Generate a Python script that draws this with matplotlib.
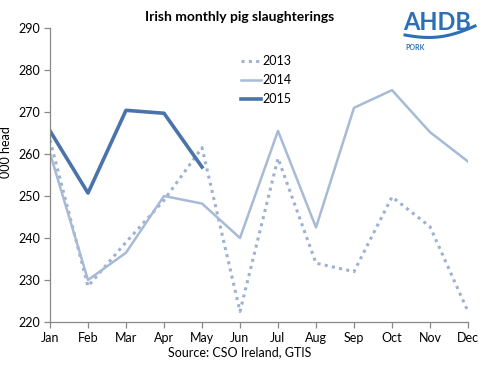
import matplotlib
matplotlib.use("Agg")
import matplotlib.pyplot as plt
from matplotlib.lines import Line2D
import numpy as np

months = ["Jan", "Feb", "Mar", "Apr", "May", "Jun", "Jul", "Aug", "Sep", "Oct", "Nov", "Dec"]
y2013 = [263.3, 228.5, 239.0, 249.0, 261.5, 222.5, 259.0, 234.0, 232.0, 249.8, 242.7, 222.5]
y2014 = [260.2, 230.0, 236.5, 250.0, 248.2, 240.0, 265.5, 242.5, 271.0, 275.2, 265.2, 258.2]
y2015 = [265.5, 250.7, 270.4, 269.7, 256.9]
yticks = [220, 230, 240, 250, 260, 270, 280, 290]

plt.rcParams['font.family'] = ['Lato', 'DejaVu Sans']

fig = plt.figure(figsize=(4.81, 3.65), dpi=100)
ax = fig.add_axes([50/481, 43/365, 418/481, 294/365])

c13 = "#9DB1D3"
c14 = "#A7BAD6"
c15 = "#4A73AA"

x = np.arange(len(months))
ax.plot(x, y2013, color=c13, lw=2.2, linestyle=(0, (1, 1.4)), dash_capstyle='butt', label="2013")
ax.plot(x, y2014, color=c14, lw=1.8, label="2014")
ax.plot(x[:len(y2015)], y2015, color=c15, lw=2.6, label="2015")

ax.set_xlim(0, 11)
ax.set_ylim(220, 290)
ax.set_xticks(x)
ax.set_xticklabels(months, fontsize=9)
ax.set_yticks(yticks)
ax.set_yticklabels([str(v) for v in yticks], fontsize=9)
for s in ["top", "right"]:
    ax.spines[s].set_visible(False)
for s in ["left", "bottom"]:
    ax.spines[s].set_color("#888888")
    ax.spines[s].set_linewidth(0.9)
ax.tick_params(axis='both', direction='out', length=4, color="#888888", width=0.9, pad=3)
ax.set_ylabel("000 head", fontsize=9)
ax.yaxis.set_label_coords(-0.091, 0.578)

leg = ax.legend(loc='upper left', bbox_to_anchor=(0.43, 0.945), frameon=False, fontsize=9,
                handlelength=1.6, handletextpad=0.1, labelspacing=0.55)

fig.text(240/481, 1 - 17/365, "Irish monthly pig slaughterings", ha='center', va='center',
         fontsize=10, fontweight='bold')
fig.text(240/481, 1 - 352/365, "Source: CSO Ireland, GTIS", ha='center', va='center', fontsize=9)

# logo
fig.text(437/481, 1 - 22/365, "AHDB", ha='center', va='center', fontsize=17, fontweight='bold',
         color="#2B70B6")
t = np.linspace(0, 1, 60)
wx = 405 + 70 * t
wy = 35 + 4 * np.sin(np.pi * t) - 9 * t ** 2
fig.add_artist(Line2D(wx / 481, 1 - wy / 365, color="#2B70B6", lw=2.2))
fig.text(405/481, 1 - 48/365, "PORK", ha='left', va='center', fontsize=5, fontweight='bold',
         color="#2B70B6")

fig.savefig("out.png", dpi=100)
